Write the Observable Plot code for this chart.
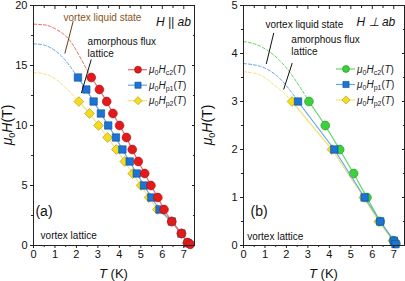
<!DOCTYPE html>
<html><head><meta charset="utf-8">
<script src="https://cdn.jsdelivr.net/npm/d3@7"></script>
<script src="https://cdn.jsdelivr.net/npm/@observablehq/plot@0.6"></script>
<style>
body{margin:0;background:#fff;}
#wrap{display:flex;width:405px;height:281px;}
svg{font-family:"Liberation Sans",Arial,sans-serif;}
</style></head><body><div id="wrap"></div>
<script>
// ---- Panel (a): H || ab ----
const hc2A_T = [2.69,3.07,3.41,3.70,4.01,4.33,4.60,4.88,5.18,5.47,5.79,6.08,6.44,6.89,7.18,7.3];
const hc2A_H = [14,13,12,11,10,9,8,7,6,5,4,3,2,1,0.25,0.1];
const hp1A_T = [2.07,2.46,2.80,3.14,3.48,3.84,4.14,4.48,4.81,5.15,5.49,5.87,6.44,6.89,7.18];
const hp1A_H = [14,13,12,11,10,9,8,7,6,5,4,3,2,1,0.2];
const hp2A_T = [2.11,2.61,3.03,3.45,3.86,4.25,4.62,5.01,5.38,5.77,6.44,6.89,7.15];
const hp2A_H = [12,11,10,9,8,7,6,5,4,3,2,1,0.2];
// extrapolated (dashed) curves
const dc2A_T = [0,0.4,0.79,1.41,1.88,2.35,2.69];
const dc2A_H = [18.45,18.4,18.25,17.6,16.6,15.1,14];
const dp1A_T = [0,0.5,1.0,1.5,2.07];
const dp1A_H = [16.8,16.7,16.25,15.4,14];
const dp2A_T = [0,0.5,1.0,1.5,2.11];
const dp2A_H = [14.4,14.3,13.9,13.15,12];

// ---- Panel (b): H ⊥ ab ----
const hc2B_T = [3.05,3.81,4.48,5.13,5.75,6.37,7.0,7.1];
const hc2B_H = [3,2.5,2,1.5,1,0.5,0.1,0.04];
const hp1B_T = [2.54,4.23,5.64,6.37,7.0,7.08];
const hp1B_H = [3,2,1,0.5,0.1,0.03];
const hp2B_T = [2.26,4.12,5.6,6.3,6.95];
const hp2B_H = [3,2,1,0.5,0.1];
const dc2B_T = [0,0.79,1.72,2.5,3.05];
const dc2B_H = [4.25,4.15,3.84,3.39,3.0];
const dp1B_T = [0,0.79,1.57,2.19,2.54];
const dp1B_H = [3.79,3.73,3.53,3.22,3.0];
const dp2B_T = [0,0.79,1.41,1.87,2.26];
const dp2B_H = [3.62,3.55,3.35,3.18,3.0];

const xTicks = [0,1,2,3,4,5,6,7];
const yTicksA = [0,5,10,15,20];
const yTicksB = [0,1,2,3,4,5];
const legendSubs = ["c2","p1","p2"];

const C = {
  red:{fill:"#e4191b",stroke:"#9e1010",line:"#e86a6a"},
  blue:{fill:"#1c74d6",stroke:"#0d4c95",line:"#62a6e8"},
  yellow:{fill:"#f3dd1e",stroke:"#a8950f",line:"#f1e37c"},
  green:{fill:"#3dd03d",stroke:"#1d8c1d",line:"#62d662"}
};

const zip = (T,H) => T.map((t,i)=>({T:t,H:H[i]}));

function makePanel(o){
  const W=o.width, ml=o.ml, mr=o.mr, mt=5, mb=36;
  const series = o.series;
  const marks = [];
  series.forEach(s=>marks.push(Plot.line(zip(s.dT,s.dH),{x:"T",y:"H",stroke:C[s.c].line,strokeWidth:1,strokeDasharray:"3,2",curve:"natural"})));
  series.forEach(s=>{
    marks.push(Plot.line(zip(s.T,s.H),{x:"T",y:"H",stroke:C[s.c].line,strokeWidth:1.2}));
    marks.push(Plot.dot(zip(s.T,s.H),{x:"T",y:"H",symbol:s.sym,r:s.r,fill:C[s.c].fill,stroke:C[s.c].stroke,strokeWidth:0.6}));
  });
  o.notes.forEach(n=>marks.push(Plot.text([n],{x:"T",y:"H",text:"s",textAnchor:n.anchor,fontSize:n.size,fill:n.color||"#111",lineHeight:1.15,fontStyle:n.italic?"italic":"normal"})));
  o.pointers.forEach(p=>marks.push(Plot.link([p],{x1:"T1",y1:"H1",x2:"T2",y2:"H2",stroke:p.color||"#111",strokeWidth:1})));
  const minorX = d3.range(0.5,7.5,1);
  const none = ()=>"";
  marks.push(
    Plot.axisX({ticks:xTicks,tickSize:3,tickPadding:2,tickFormat:"d",label:null,fontSize:11,stroke:"#222"}),
    Plot.axisX({ticks:minorX,tickSize:2,tickFormat:none,label:null,stroke:"#222"}),
    Plot.axisX({anchor:"top",ticks:xTicks,tickSize:3,dy:3,tickFormat:none,label:null,stroke:"#222"}),
    Plot.axisX({anchor:"top",ticks:minorX,tickSize:2,dy:2,tickFormat:none,label:null,stroke:"#222"}),
    Plot.axisY({ticks:o.yTicks,tickSize:3,tickPadding:3,tickFormat:"d",label:null,fontSize:11,stroke:"#222"}),
    Plot.axisY({ticks:o.yMinor,tickSize:2,tickFormat:none,label:null,stroke:"#222"}),
    Plot.axisY({anchor:"right",ticks:o.yTicks,tickSize:3,dx:-3,tickFormat:none,label:null,stroke:"#222"}),
    Plot.axisY({anchor:"right",ticks:o.yMinor,tickSize:2,dx:-2,tickFormat:none,label:null,stroke:"#222"}),
    Plot.frame({stroke:"#222",strokeWidth:1})
  );
  const svg = Plot.plot({
    width:W,height:281,marginLeft:ml,marginRight:mr,marginTop:mt,marginBottom:mb,
    x:{domain:[0,7.5]},y:{domain:o.yDomain},
    style:{fontFamily:"'Liberation Sans',Arial,sans-serif",fontSize:"11px",color:"#111",background:"#fff",overflow:"visible"},
    marks
  });
  const s = d3.select(svg);
  const xl = s.append("text").attr("x",(ml+W-mr)/2).attr("y",278).attr("text-anchor","middle").attr("font-size",13).attr("fill","#111");
  xl.append("tspan").attr("font-style","italic").text("T");
  xl.append("tspan").text(" (K)");
  const yl = s.append("text").attr("transform",`translate(${o.ylx},${(mt+281-mb)/2}) rotate(-90)`).attr("text-anchor","middle").attr("font-size",14).attr("fill","#111");
  yl.append("tspan").attr("font-style","italic").text("μ");
  yl.append("tspan").attr("font-size",9).attr("dy",3).text("0");
  yl.append("tspan").attr("font-style","italic").attr("dy",-3).text("H");
  yl.append("tspan").text("(T)");
  const g = s.append("g");
  const symMap = {circle:d3.symbolCircle,square:d3.symbolSquare,diamond2:d3.symbolDiamond2};
  legendSubs.forEach((sub,i)=>{
    const ser = series.find(d=>d.sub===sub);
    const y = o.leg.y + i*15.5, x0 = o.leg.x;
    g.append("line").attr("x1",x0).attr("x2",x0+19).attr("y1",y).attr("y2",y).attr("stroke",C[ser.c].line).attr("stroke-width",1.2);
    g.append("path").attr("d",d3.symbol(symMap[ser.sym],ser.sym==="diamond2"?42:38)()).attr("transform",`translate(${x0+10},${y})`).attr("fill",C[ser.c].fill).attr("stroke",C[ser.c].stroke).attr("stroke-width",0.6);
    const t = g.append("text").attr("x",x0+21).attr("y",y+3.5).attr("text-anchor","start").attr("font-size",10).attr("fill","#222");
    t.append("tspan").attr("font-style","italic").text("μ");
    t.append("tspan").attr("font-size",7).attr("dy",2).text("0");
    t.append("tspan").attr("font-style","italic").attr("dy",-2).text("H");
    t.append("tspan").attr("font-size",7).attr("dy",2).text(sub);
    t.append("tspan").attr("dy",-2).text("(");
    t.append("tspan").attr("font-style","italic").text("T");
    t.append("tspan").text(")");
  });
  return svg;
}

const panelA = makePanel({
  width:200, ml:33, mr:6, yDomain:[0,20], yTicks:yTicksA, yMinor:[2.5,7.5,12.5,17.5], ylx:12,
  series:[
    {c:"yellow",sym:"diamond2",r:4.4,T:hp2A_T,H:hp2A_H,dT:dp2A_T,dH:dp2A_H,sub:"p2"},
    {c:"blue",sym:"square",r:4.2,T:hp1A_T,H:hp1A_H,dT:dp1A_T,dH:dp1A_H,sub:"p1"},
    {c:"red",sym:"circle",r:4.4,T:hc2A_T,H:hc2A_H,dT:dc2A_T,dH:dc2A_H,sub:"c2"}
  ],
  notes:[
    {T:1.4,H:19.05,s:"vortex liquid state",anchor:"start",size:10,color:"#8a5522"},
    {T:7.33,H:18.65,s:"H || ab",anchor:"end",size:12,italic:true},
    {T:2.52,H:16.5,s:"amorphous flux\nlattice",anchor:"start",size:10},
    {T:0.09,H:2.9,s:"(a)",anchor:"start",size:14},
    {T:0.33,H:0.83,s:"vortex lattice",anchor:"start",size:10}
  ],
  pointers:[
    {T1:1.85,H1:18.7,T2:1.46,H2:16.0,color:"#6b3f14"},
    {T1:2.69,H1:15.5,T2:2.23,H2:12.7}
  ],
  leg:{x:128,y:69.7}
});

const panelB = makePanel({
  width:205, ml:43, mr:1, yDomain:[0,5], yTicks:yTicksB, yMinor:[0.5,1.5,2.5,3.5,4.5], ylx:12,
  series:[
    {c:"yellow",sym:"diamond2",r:4.4,T:hp2B_T,H:hp2B_H,dT:dp2B_T,dH:dp2B_H,sub:"p2"},
    {c:"green",sym:"circle",r:4.4,T:hc2B_T,H:hc2B_H,dT:dc2B_T,dH:dc2B_H,sub:"c2"},
    {c:"blue",sym:"square",r:4.2,T:hp1B_T,H:hp1B_H,dT:dp1B_T,dH:dp1B_H,sub:"p1"}
  ],
  notes:[
    {T:1.02,H:4.61,s:"vortex liquid state",anchor:"start",size:10},
    {T:7.07,H:4.67,s:"H ⊥ ab",anchor:"end",size:12,italic:true},
    {T:2.23,H:4.17,s:"amorphous flux\nlattice",anchor:"start",size:10},
    {T:0.33,H:0.73,s:"(b)",anchor:"start",size:14},
    {T:0.17,H:0.2,s:"vortex lattice",anchor:"start",size:10}
  ],
  pointers:[
    {T1:1.41,H1:4.43,T2:1.06,H2:3.78},
    {T1:2.27,H1:3.80,T2:1.87,H2:3.25}
  ],
  leg:{x:136,y:69}
});
document.getElementById("wrap").append(panelA, panelB);
</script></body></html>
